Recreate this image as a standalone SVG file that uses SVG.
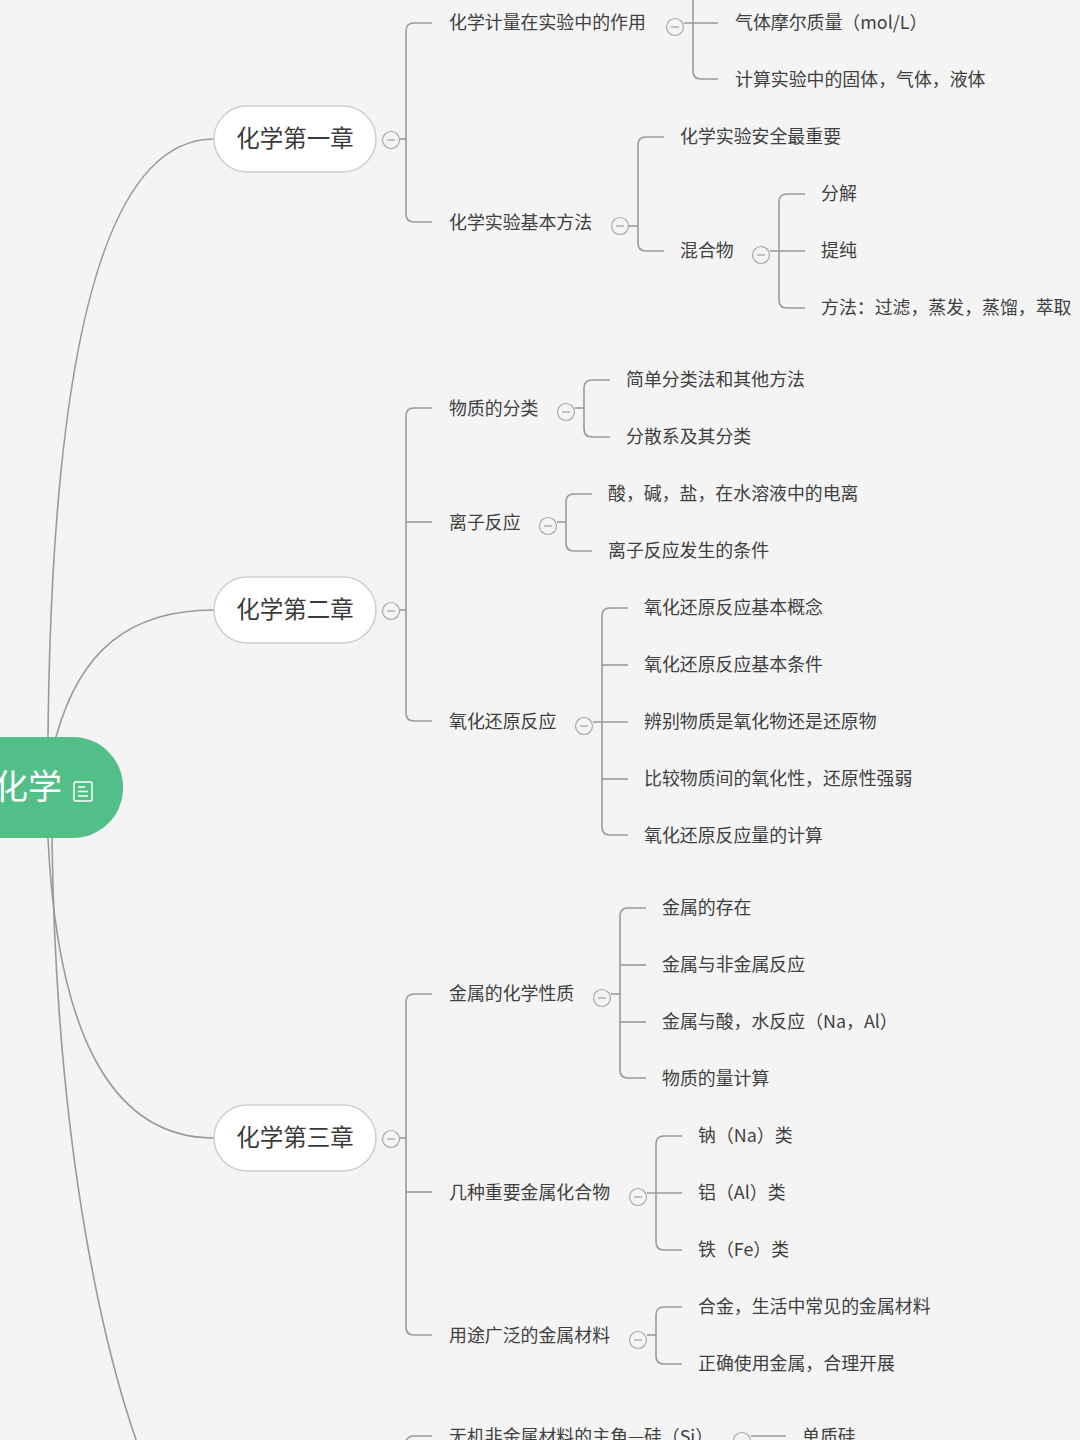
<svg xmlns="http://www.w3.org/2000/svg" xmlns:xlink="http://www.w3.org/1999/xlink" width="1080" height="1440" viewBox="0 0 1080 1440">
<style>
.bg{fill:#f4f4f4}
.ln{fill:none;stroke:#9a9a9a;stroke-width:1.6}
.t{font-family:"Noto Sans CJK SC","Liberation Sans",sans-serif;font-size:17.9px;fill:#404040}
.ch{fill:#ffffff;stroke:#cfcfcf;stroke-width:1.5}
.cht{font-family:"Noto Sans CJK SC","Liberation Sans",sans-serif;font-size:23.5px;fill:#3a3a3a;text-anchor:middle}
.root{fill:#52bf88}
.roott{font-family:"Noto Sans CJK SC","Liberation Sans",sans-serif;font-size:34px;fill:#ffffff}
.cc{fill:#f4f4f4;stroke:#a8a8a8;stroke-width:1.2}
.cm{stroke:#a0a0a0;stroke-width:1.2}
</style>
<defs>
<g id="col">
<circle class="cc" cx="0" cy="0" r="8.5"/>
<line class="cm" x1="-4" y1="0" x2="4" y2="0"/>
</g>
</defs>
<rect class="bg" x="0" y="0" width="1080" height="1440"/>

<g id="connectors">
<!-- root to chapters -->
<path class="ln" d="M48,737 C52,330 110,139 214,139"/>
<path class="ln" d="M56,737 C80,650 130,610 214,610"/>
<path class="ln" d="M48,838 C58,1050 120,1138 214,1138"/>
<path class="ln" d="M52,838 C56,1150 105,1380 160,1500"/>
<!-- chapter 1 -->
<path class="ln" d="M400,139 H406"/>
<path class="ln" d="M432,23 H414 Q406,23 406,31 V214 Q406,222 414,222 H432"/>
<path class="ln" d="M684,23 H718"/>
<path class="ln" d="M693,-10 V71 Q693,79 701,79 H718"/>
<path class="ln" d="M629,226 H638"/>
<path class="ln" d="M664,137 H646 Q638,137 638,145 V243 Q638,251 646,251 H664"/>
<path class="ln" d="M770,251 H805"/>
<path class="ln" d="M805,194 H787 Q779,194 779,202 V300 Q779,308 787,308 H805"/>
<!-- chapter 2 -->
<path class="ln" d="M400,610 H406"/>
<path class="ln" d="M432,408 H414 Q406,408 406,416 V713 Q406,721 414,721 H432"/>
<path class="ln" d="M406,522 H432"/>
<path class="ln" d="M575,408 H584"/>
<path class="ln" d="M610,380 H592 Q584,380 584,388 V429 Q584,437 592,437 H610"/>
<path class="ln" d="M557,522 H566"/>
<path class="ln" d="M592,494 H574 Q566,494 566,502 V543 Q566,551 574,551 H592"/>
<path class="ln" d="M593,722 H628"/>
<path class="ln" d="M628,608 H610 Q602,608 602,616 V827 Q602,835 610,835 H628"/>
<path class="ln" d="M602,665 H628"/>
<path class="ln" d="M602,779 H628"/>
<!-- chapter 3 -->
<path class="ln" d="M400,1138 H406"/>
<path class="ln" d="M432,994 H414 Q406,994 406,1002 V1327 Q406,1335 414,1335 H432"/>
<path class="ln" d="M406,1192 H432"/>
<path class="ln" d="M611,994 H620"/>
<path class="ln" d="M646,908 H628 Q620,908 620,916 V1070 Q620,1078 628,1078 H646"/>
<path class="ln" d="M620,965 H646"/>
<path class="ln" d="M620,1022 H646"/>
<path class="ln" d="M647,1193 H682"/>
<path class="ln" d="M682,1136 H664 Q656,1136 656,1144 V1242 Q656,1250 664,1250 H682"/>
<path class="ln" d="M647,1335 H656"/>
<path class="ln" d="M682,1307 H664 Q656,1307 656,1315 V1356 Q656,1364 664,1364 H682"/>
<!-- chapter 4 (partial) -->
<path class="ln" d="M432,1436 H414 Q406,1436 406,1444 V1460"/>
<path class="ln" d="M751,1436 H786"/>
</g>

<g id="root">
<rect class="root" x="-60" y="737" width="183" height="101" rx="50" ry="50"/>
<text class="roott" x="-6" y="799">化学</text>
<rect x="74" y="782" width="18" height="19" rx="1.5" fill="none" stroke="#ffffff" stroke-width="1.5"/>
<line x1="78" y1="787" x2="85" y2="787" stroke="#ffffff" stroke-width="1.5"/>
<line x1="78" y1="791.5" x2="88" y2="791.5" stroke="#ffffff" stroke-width="1.5"/>
<line x1="78" y1="796" x2="88" y2="796" stroke="#ffffff" stroke-width="1.5"/>
</g>

<g id="ch1">
<rect class="ch" x="214" y="106" width="162" height="66" rx="33"/>
<text class="cht" x="295" y="147">化学第一章</text>
<use xlink:href="#col" x="391" y="140"/>
</g>
<g id="ch1a"><text class="t" x="449" y="29">化学计量在实验中的作用</text><use xlink:href="#col" x="675" y="27"/></g>
<g id="ch1a1"><text class="t" x="735" y="29">气体摩尔质量（mol/L）</text></g>
<g id="ch1a2"><text class="t" x="735" y="86">计算实验中的固体，气体，液体</text></g>
<g id="ch1b"><text class="t" x="449" y="229">化学实验基本方法</text><use xlink:href="#col" x="620" y="226"/></g>
<g id="ch1b1"><text class="t" x="680" y="143">化学实验安全最重要</text></g>
<g id="ch1b2"><text class="t" x="680" y="257">混合物</text><use xlink:href="#col" x="761" y="255"/></g>
<g id="ch1b2a"><text class="t" x="821" y="200">分解</text></g>
<g id="ch1b2b"><text class="t" x="821" y="257">提纯</text></g>
<g id="ch1b2c"><text class="t" x="821" y="314">方法：过滤，蒸发，蒸馏，萃取</text></g>

<g id="ch2">
<rect class="ch" x="214" y="577" width="162" height="66" rx="33"/>
<text class="cht" x="295" y="618">化学第二章</text>
<use xlink:href="#col" x="391" y="611"/>
</g>
<g id="ch2a"><text class="t" x="449" y="415">物质的分类</text><use xlink:href="#col" x="566" y="412"/></g>
<g id="ch2a1"><text class="t" x="626" y="386">简单分类法和其他方法</text></g>
<g id="ch2a2"><text class="t" x="626" y="443">分散系及其分类</text></g>
<g id="ch2b"><text class="t" x="449" y="529">离子反应</text><use xlink:href="#col" x="548" y="526"/></g>
<g id="ch2b1"><text class="t" x="608" y="500">酸，碱，盐，在水溶液中的电离</text></g>
<g id="ch2b2"><text class="t" x="608" y="557">离子反应发生的条件</text></g>
<g id="ch2c"><text class="t" x="449" y="728">氧化还原反应</text><use xlink:href="#col" x="584" y="726"/></g>
<g id="ch2c1"><text class="t" x="644" y="614">氧化还原反应基本概念</text></g>
<g id="ch2c2"><text class="t" x="644" y="671">氧化还原反应基本条件</text></g>
<g id="ch2c3"><text class="t" x="644" y="728">辨别物质是氧化物还是还原物</text></g>
<g id="ch2c4"><text class="t" x="644" y="785">比较物质间的氧化性，还原性强弱</text></g>
<g id="ch2c5"><text class="t" x="644" y="842">氧化还原反应量的计算</text></g>

<g id="ch3">
<rect class="ch" x="214" y="1105" width="162" height="66" rx="33"/>
<text class="cht" x="295" y="1146">化学第三章</text>
<use xlink:href="#col" x="391" y="1139"/>
</g>
<g id="ch3a"><text class="t" x="449" y="1000">金属的化学性质</text><use xlink:href="#col" x="602" y="998"/></g>
<g id="ch3a1"><text class="t" x="662" y="914">金属的存在</text></g>
<g id="ch3a2"><text class="t" x="662" y="971">金属与非金属反应</text></g>
<g id="ch3a3"><text class="t" x="662" y="1028">金属与酸，水反应（Na，Al）</text></g>
<g id="ch3a4"><text class="t" x="662" y="1085">物质的量计算</text></g>
<g id="ch3b"><text class="t" x="449" y="1199">几种重要金属化合物</text><use xlink:href="#col" x="638" y="1197"/></g>
<g id="ch3b1"><text class="t" x="698" y="1142">钠（Na）类</text></g>
<g id="ch3b2"><text class="t" x="698" y="1199">铝（Al）类</text></g>
<g id="ch3b3"><text class="t" x="698" y="1256">铁（Fe）类</text></g>
<g id="ch3c"><text class="t" x="449" y="1342">用途广泛的金属材料</text><use xlink:href="#col" x="638" y="1340"/></g>
<g id="ch3c1"><text class="t" x="698" y="1313">合金，生活中常见的金属材料</text></g>
<g id="ch3c2"><text class="t" x="698" y="1370">正确使用金属，合理开展</text></g>

<g id="ch4a"><text class="t" x="449" y="1443">无机非金属材料的主角—硅（Si）</text><use xlink:href="#col" x="742" y="1441"/></g>
<g id="ch4a1"><text class="t" x="802" y="1443">单质硅</text></g>
</svg>
